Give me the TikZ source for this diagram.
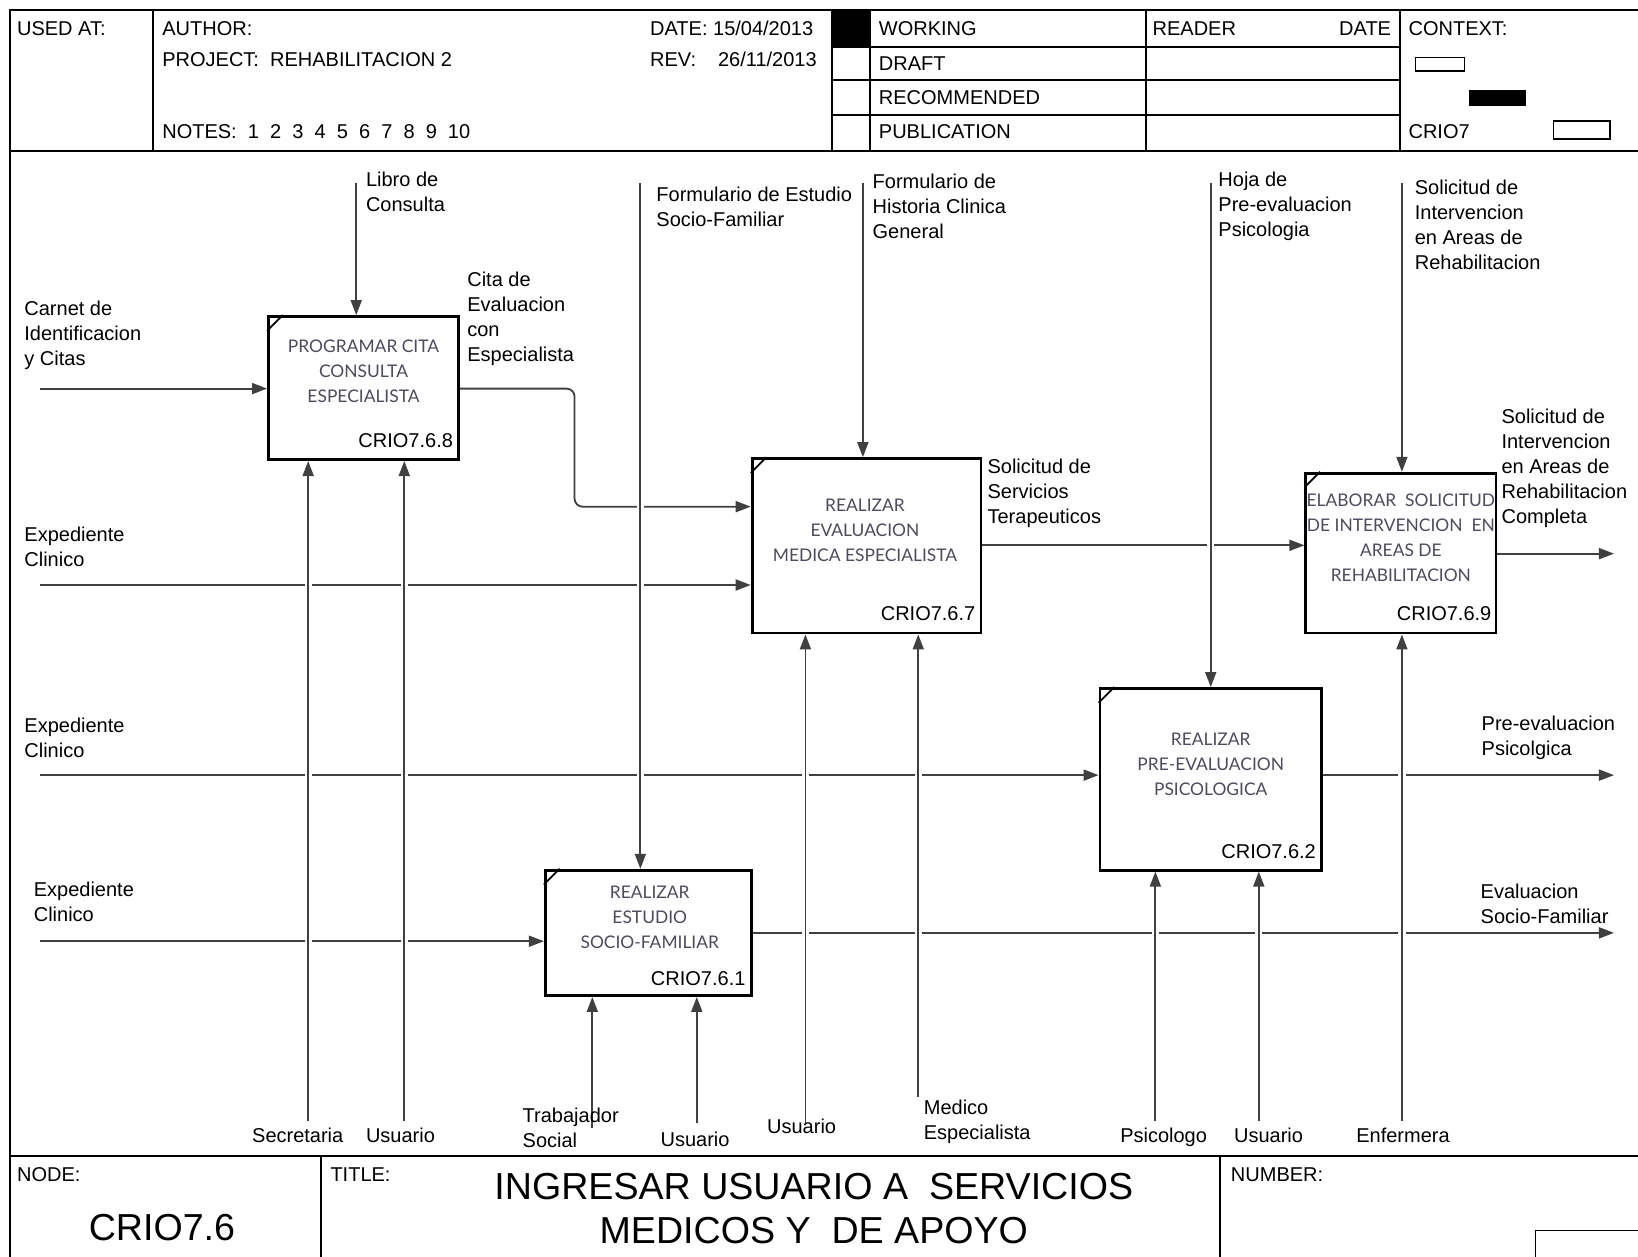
\documentclass[tikz,border=0pt]{standalone}
\usepackage{fontspec}
\setmainfont{Liberation Sans}
\newfontfamily\boxfont{Lato}
\usetikzlibrary{arrows.meta,calc}
% one drawing unit in points
\def\pxu{0.5223pt}
\definecolor{inkgray}{rgb}{0.30,0.30,0.36}
\begin{document}
\begin{tikzpicture}[x=0.5223pt, y=-0.5223pt,
  frame/.style={line width=1pt, black},
  thin frame/.style={line width=0.7pt, black},
  activity/.style={draw, line width=1.4pt, fill=white, inner sep=0pt},
  flow/.style={draw=black!75, line width=0.9pt, -{Triangle[length=7.5pt,width=5.5pt]}},
  crossing/.style={preaction={draw=white, line width=3.6pt, arrows=-}},
  lbl/.style={anchor=north west, inner sep=0pt, align=left, font=\fontsize{10}{12.5}\selectfont},
  hdr/.style={anchor=west, inner sep=0pt, text height=7.2pt, text depth=0pt, font=\fontsize{10}{12}\selectfont},
  actlbl/.style={anchor=north, inner sep=0pt, align=center, text=inkgray, font=\boxfont\fontsize{8.7}{12.5}\selectfont},
  actid/.style={anchor=base east, inner sep=0pt, font=\fontsize{10}{12}\selectfont},
  big/.style={inner sep=0pt, align=center, font=\fontsize{18.8}{22}\selectfont},
]
\useasboundingbox (0,0) rectangle (1568,1203);

% ---------- form frame ----------
\draw[frame] (10,1215) -- (10,10) -- (1580,10);
\draw[frame] (10,145) -- (1580,145);
\draw[frame] (10,1107) -- (1580,1107);
\draw[frame] (146,10) -- (146,145);
\fill (796,10) rectangle (833,45);
\draw[frame] (796,10) -- (796,145);
\draw[frame] (833,10) -- (833,145);
\draw[frame] (1097,10) -- (1097,145);
\draw[frame] (1340,10) -- (1340,145);
\foreach \yy in {45,77,110} \draw[frame] (796,\yy) -- (1340,\yy);
\draw[thin frame] (1355,55) rectangle (1402,68);
\fill (1406,86) rectangle (1461,101);
\draw[thin frame] (1487,116) rectangle (1541,133);
\draw[frame] (307,1107) -- (307,1215);
\draw[frame] (1168,1107) -- (1168,1215);
\draw[thin frame] (1470,1215) -- (1470,1178) -- (1580,1178);

% ---------- header texts ----------
\node[hdr] (usedat) at (16,27) {USED AT:};
\node[hdr] (author) at (155,27) {AUTHOR:};
\node[hdr] (project) at (155,57) {PROJECT:~~REHABILITACION 2};
\node[hdr] (notes) at (155,126) {NOTES:~~1~~2~~3~~4~~5~~6~~7~~8~~9~~10};
\node[hdr] (date) at (622,27) {DATE:~15/04/2013};
\node[hdr] (rev) at (622,57) {REV:\hspace{11pt}26/11/2013};
\node[hdr] (working) at (841,27) {WORKING};
\node[hdr] (draft) at (841,61) {DRAFT};
\node[hdr] (recommended) at (841,93) {RECOMMENDED};
\node[hdr] (publication) at (841,126) {PUBLICATION};
\node[hdr] (reader) at (1103,27) {READER};
\node[hdr, anchor=east] (rdate) at (1332,27) {DATE};
\node[hdr] (context) at (1348,27) {CONTEXT:};
\node[hdr] (ctxnode) at (1348,126) {CRIO7};

% ---------- footer texts ----------
\node[hdr] (nodehd) at (16,1124) {NODE:};
\node[hdr] (titlehd) at (316,1124) {TITLE:};
\node[hdr] (numberhd) at (1178,1124) {NUMBER:};
\node[big] (nodeid) at (155,1175) {CRIO7.6};
\node[big] (title) at (779,1157) {INGRESAR USUARIO A~~SERVICIOS\\MEDICOS Y~~DE APOYO};

% ---------- activity boxes ----------
\node[activity, minimum width=182*\pxu, minimum height=137*\pxu] (A) at (348,371.5) {};
\node[activity, minimum width=219*\pxu, minimum height=167*\pxu] (B) at (829.5,522.5) {};
\node[activity, minimum width=182*\pxu, minimum height=153*\pxu] (C) at (1341,529.5) {};
\node[activity, minimum width=212*\pxu, minimum height=174*\pxu] (D) at (1159,746) {};
\node[activity, minimum width=197*\pxu, minimum height=120*\pxu] (E) at (620.5,893) {};
\foreach \b in {A,B,C,D,E}
  \draw[line width=0.9pt] ($(\b.north west)+(0,15)$) -- ($(\b.north west)+(15,0)$);

% ---------- connector end points ----------
\coordinate (in1) at (38,372);
\coordinate (in2) at (38,560);
\coordinate (in3) at (38,742);
\coordinate (in4) at (38,901);
\coordinate (bend1) at (550,372);
\coordinate (bend2) at (550,485);
\coordinate (rowB) at (0,522);
\coordinate (out1) at (1545,530);
\coordinate (out2) at (1545,742);
\coordinate (out3) at (1545,893);
\coordinate (k1) at (341,175);
\coordinate (k2) at (613,175);
\coordinate (k3) at (826,175);
\coordinate (k4) at (1159,175);
\coordinate (k5) at (1342,175);
\coordinate (m1) at (295,1073);
\coordinate (m2) at (387,1073);
\coordinate (m3) at (567,1080);
\coordinate (m4) at (667,1075);
\coordinate (m5) at (771,1075);
\coordinate (m6) at (879,1050);
\coordinate (m7) at (1106,1073);
\coordinate (m8) at (1205,1073);
\coordinate (m9) at (1342,1073);

% ---------- inputs and outputs ----------
\draw[flow] (in1) -- (in1 -| A.west);
\draw[flow, rounded corners=4pt] (A.east |- bend1) -- (bend1) -- (bend2) -- (bend2 -| B.west);
\draw[flow] (in2) -- (in2 -| B.west);
\draw[flow] (B.east |- rowB) -- (C.west |- rowB);
\draw[flow] (C.east |- out1) -- (out1);
\draw[flow] (in3) -- (in3 -| D.west);
\draw[flow] (D.east |- out2) -- (out2);
\draw[flow] (in4) -- (in4 -| E.west);
\draw[flow] (E.east |- out3) -- (out3);

% ---------- controls ----------
\draw[flow, crossing] (k1) -- (k1 |- A.north);
\draw[flow, crossing] (k2) -- (k2 |- E.north);
\draw[flow, crossing] (k3) -- (k3 |- B.north);
\draw[flow, crossing] (k4) -- (k4 |- D.north);
\draw[flow, crossing] (k5) -- (k5 |- C.north);

% ---------- mechanisms ----------
\draw[flow, crossing] (m1) -- (m1 |- A.south);
\draw[flow, crossing] (m2) -- (m2 |- A.south);
\draw[flow, crossing] (m3) -- (m3 |- E.south);
\draw[flow, crossing] (m4) -- (m4 |- E.south);
\draw[flow, crossing] (m5) -- (m5 |- B.south);
\draw[flow, crossing] (m6) -- (m6 |- B.south);
\draw[flow, crossing] (m7) -- (m7 |- D.south);
\draw[flow, crossing] (m8) -- (m8 |- D.south);
\draw[flow, crossing] (m9) -- (m9 |- C.south);

% ---------- activity texts ----------
\node[actlbl] (Atxt) at (348,325) {PROGRAMAR CITA\\CONSULTA\\ESPECIALISTA};
\node[actlbl] (Btxt) at (828,477) {REALIZAR\\EVALUACION\\MEDICA ESPECIALISTA};
\node[actlbl] (Ctxt) at (1341,472) {ELABORAR~~SOLICITUD\\DE INTERVENCION~~EN\\AREAS DE\\REHABILITACION};
\node[actlbl] (Dtxt) at (1159,701) {REALIZAR\\PRE-EVALUACION\\PSICOLOGICA};
\node[actlbl] (Etxt) at (622,848) {REALIZAR\\ESTUDIO\\SOCIO-FAMILIAR};
\node[actid] (Aid) at (434,428) {CRIO7.6.8};
\node[actid] (Bid) at (934,594) {CRIO7.6.7};
\node[actid] (Cid) at (1428,594) {CRIO7.6.9};
\node[actid] (Did) at (1260,822) {CRIO7.6.2};
\node[actid] (Eid) at (714,943) {CRIO7.6.1};

% ---------- arrow labels ----------
\node[lbl] (l1) at (350,164) {Libro de\\Consulta};
\node[lbl] (l2) at (23,288) {Carnet de\\Identificacion\\y Citas};
\node[lbl] (l3) at (447,260) {Cita de\\Evaluacion\\con\\Especialista};
\node[lbl] (l4) at (628,179) {Formulario de Estudio\\Socio-Familiar};
\node[lbl] (l5) at (835,166) {Formulario de\\Historia Clinica\\General};
\node[lbl] (l6) at (1166,164) {Hoja de\\Pre-evaluacion\\Psicologia};
\node[lbl] (l7) at (1354,172) {Solicitud de\\Intervencion\\en Areas de\\Rehabilitacion};
\node[lbl] (l8) at (945,439) {Solicitud de\\Servicios\\Terapeuticos};
\node[lbl] (l9) at (1437,391) {Solicitud de\\Intervencion\\en Areas de\\Rehabilitacion\\Completa};
\node[lbl] (l10) at (23,504) {Expediente\\Clinico};
\node[lbl] (l11) at (23,687) {Expediente\\Clinico};
\node[lbl] (l12) at (32,844) {Expediente\\Clinico};
\node[lbl] (l13) at (1418,685) {Pre-evaluacion\\Psicolgica};
\node[lbl] (l14) at (1417,846) {Evaluacion\\Socio-Familiar};
\node[lbl] (l15) at (241,1079) {Secretaria};
\node[lbl] (l16) at (350,1079) {Usuario};
\node[lbl] (l17) at (500,1060) {Trabajador\\Social};
\node[lbl] (l18) at (632,1083) {Usuario};
\node[lbl] (l19) at (734,1071) {Usuario};
\node[lbl] (l20) at (884,1053) {Medico\\Especialista};
\node[lbl] (l21) at (1072,1079) {Psicologo};
\node[lbl] (l22) at (1181,1079) {Usuario};
\node[lbl] (l23) at (1298,1079) {Enfermera};
\end{tikzpicture}
\end{document}
